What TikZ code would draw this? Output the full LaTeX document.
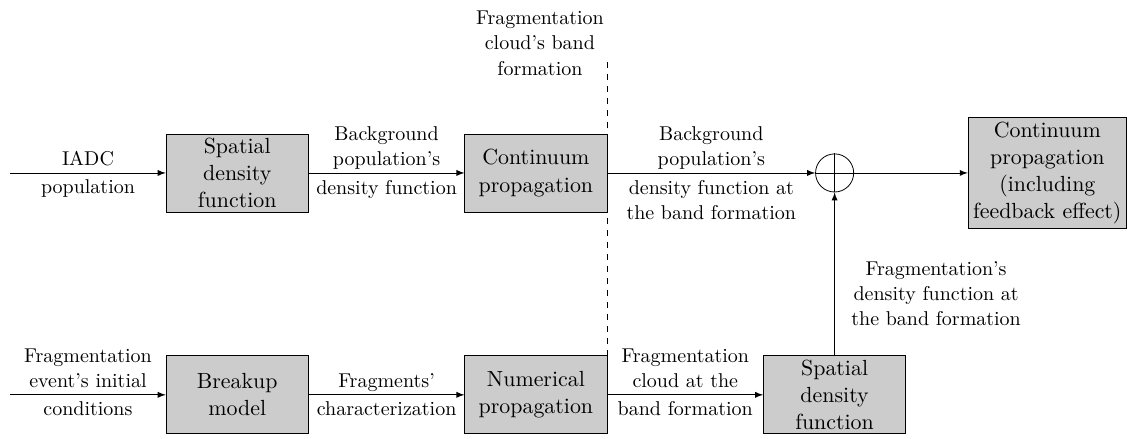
\documentclass[tikz,border=0pt]{standalone}
\usepackage{tikz}

\begin{document}
\begin{tikzpicture}[font=\fontsize{10}{12.6}\selectfont]

        \useasboundingbox (0,0) rectangle (19.95,7.70);

        % band formation line
        \draw[dashed] (10.67,1.44) -- (10.67,6.70);
        \node[align=center] (bandlbl) at (9.49,6.94) {Fragmentation\\cloud's band\\formation};

        \begin{scope}[every node/.style={rectangle, draw, fill=gray!40, align=center,
            font=\fontsize{10.95}{13.6}\selectfont, inner sep=2pt,
            minimum width=2.5cm, minimum height=1.37cm}]
          \node (sp1)  at (4.17,4.66)  {Spatial\\density\\function};
          \node (prop) at (9.42,4.66)  {Continuum\\propagation};
          \node (brk)  at (4.17,0.76)  {Breakup\\model};
          \node (num)  at (9.42,0.76)  {Numerical\\propagation};
          \node (sp2)  at (14.67,0.76) {Spatial\\density\\function};
          \node[anchor=west, minimum width=0cm, inner xsep=2.5pt] (fb) at (17.01,4.66) {Continuum\\propagation\\(including\\feedback effect)};
        \end{scope}

        \node[circle, draw, minimum size=0.67cm] (sum) at (14.67,4.66) {};
        \draw (sum.north) -- (sum.south) (sum.west) -- (sum.east);

        \coordinate (in1) at (0.18,4.66);
        \coordinate (in2) at (0.18,0.76);

        \begin{scope}[every node/.style={align=center}]

          \begin{scope}[every edge/.style={draw, -latex}]
            \path (in1)  edge node[above, text depth=0pt] {IADC} node[below] {population} (sp1);
            \path (sp1)  edge node[above, text depth=0pt] {Background\\population's} node[below] {density function} (prop);
            \path (prop) edge node[above, text depth=0pt] {Background\\population's} node[below] {density function at\\the band formation} (sum);
            \path (sum)  edge (fb);
            \path (in2)  edge node[above, text depth=0pt] {Fragmentation\\event's initial} node[below] {conditions} (brk);
            \path (brk)  edge node[above, text depth=0pt] {Fragments'} node[below] {characterization} (num);
            \path (num)  edge node[above, text depth=0pt] {Fragmentation\\cloud at the} node[below] {band formation} (sp2);
            \path (sp2)  edge node[right, pos=0.38, xshift=1.7mm] {Fragmentation's\\density function at\\the band formation} (sum);

          \end{scope}
        \end{scope}

      \end{tikzpicture}
\end{document}
